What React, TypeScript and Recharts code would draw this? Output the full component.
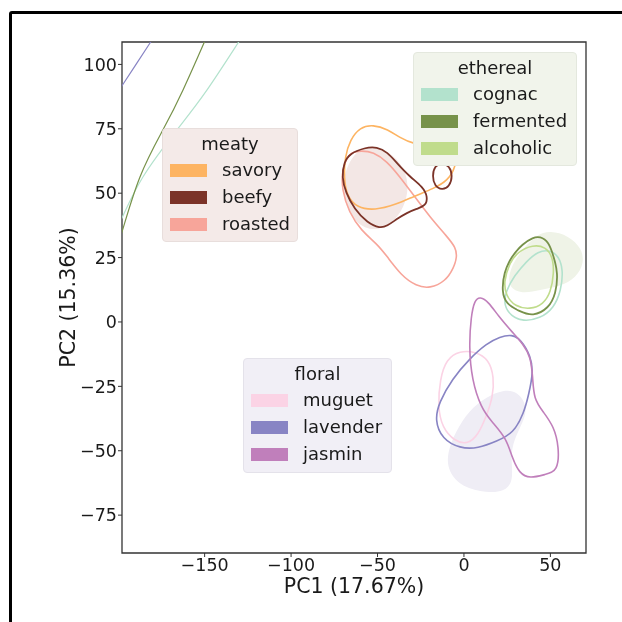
import React from 'react';
import { ComposedChart, Line, Area, XAxis, YAxis, ReferenceArea, Label } from 'recharts';

// ---------- axes ----------
const X_DOMAIN: [number, number] = [-197.8, 70.6];
const Y_DOMAIN: [number, number] = [-89.7, 108.7];
const X_TICKS = [-150, -100, -50, 0, 50];
const Y_TICKS = [-75, -50, -25, 0, 25, 50, 75, 100];
const X_LABEL = 'PC1 (17.67%)';
const Y_LABEL = 'PC2 (15.36%)';

// ---------- group fills (KDE of group) ----------
const meatyFill = [[-60.1, 69.0], [-46.8, 67.5], [-36.0, 62.0], [-31.5, 53.6], [-34.3, 44.5], [-42.3, 37.6], [-53.2, 35.0], [-64.0, 39.0], [-70.0, 47.8], [-69.8, 58.5]];
const etherealFill = [[49.7, 35.5], [60.6, 33.5], [68.2, 28.5], [69.5, 22.9], [65.0, 17.2], [55.5, 13.8], [44.0, 12.4], [33.5, 10.8], [25.0, 13.6], [26.8, 21.5], [34.8, 29.0], [42.2, 33.8]];
const floralFill = [[31.0, -26.8], [37.0, -33.0], [34.0, -39.2], [28.8, -45.8], [27.0, -52.4], [28.8, -62.0], [23.0, -66.0], [13.3, -66.3], [-1.0, -64.3], [-9.3, -58.0], [-9.8, -50.9], [-4.8, -42.5], [3.0, -34.3], [13.3, -29.0], [22.6, -26.4]];

// ---------- descriptor contours ----------
const savory = [[-65.9, 70.7], [-60.1, 75.6], [-52.6, 76.6], [-44.0, 74.8], [-37.0, 71.5], [-29.5, 69.1], [-13.9, 67.6], [-4.7, 65.2], [-4.6, 60.6], [-9.3, 54.8], [-17.9, 51.7], [-28.3, 49.0], [-39.9, 45.4], [-51.5, 43.4], [-61.8, 44.3], [-67.8, 48.9], [-69.5, 56.3], [-68.8, 64.1]];
const beefy = [[-66.3, 65.3], [-57.3, 67.7], [-50.3, 68.0], [-44.2, 65.9], [-38.8, 61.7], [-31.2, 56.3], [-24.0, 52.6], [-20.8, 48.5], [-22.3, 45.0], [-27.2, 44.0], [-33.0, 42.4], [-38.8, 40.0], [-44.5, 37.2], [-48.6, 36.4], [-55.8, 38.4], [-63.5, 44.0], [-68.3, 50.1], [-70.7, 56.3], [-69.3, 62.0]];
const beefySmall = [[-12.7, 61.8], [-8.4, 60.6], [-6.5, 56.7], [-8.4, 52.5], [-12.7, 51.2], [-17.0, 52.8], [-18.3, 56.7], [-17.0, 60.6]];
const roasted = [[-66.3, 66.0], [-59.0, 66.5], [-52.6, 66.0], [-44.5, 62.4], [-37.0, 56.3], [-28.3, 48.5], [-19.7, 40.8], [-9.6, 33.0], [-4.7, 28.9], [-4.0, 25.2], [-5.9, 21.0], [-10.7, 15.8], [-19.7, 13.0], [-27.5, 13.9], [-36.3, 18.0], [-44.8, 25.8], [-50.6, 30.5], [-59.3, 35.4], [-66.5, 42.5], [-70.6, 51.3], [-70.6, 59.3]];
const cognac = [[49.7, 28.0], [54.9, 25.5], [57.4, 20.2], [56.2, 12.2], [52.0, 5.4], [44.0, 1.3], [34.1, 0.2], [27.4, 2.2], [23.0, 6.4], [24.2, 11.9], [29.0, 17.9], [36.2, 23.5], [42.8, 27.4]];
const cognacEdge = [[-205, 31.0], [-197.8, 40.4], [-185.7, 56.3], [-166.0, 74.6], [-148.6, 90.1], [-130.7, 108.3], [-125, 114]];
const fermented = [[44.0, 33.2], [49.0, 31.2], [52.0, 25.2], [54.4, 19.0], [53.2, 11.0], [49.0, 5.3], [39.9, 2.1], [32.0, 4.2], [24.4, 7.0], [21.9, 11.7], [23.1, 19.2], [27.4, 25.4], [34.1, 30.4], [39.9, 32.8]];
const fermentedEdge = [[-205, 20.5], [-197.8, 35.0], [-187.4, 56.3], [-174.1, 74.6], [-162.5, 90.1], [-150.4, 108.3], [-146, 115]];
const alcoholic = [[39.9, 30.0], [47.2, 29.2], [51.4, 25.2], [52.1, 19.0], [50.2, 11.5], [46.0, 6.9], [38.2, 4.8], [29.2, 6.1], [24.3, 10.3], [23.0, 15.5], [26.1, 22.5], [31.0, 27.3]];
const muguet = [[-2.3, -11.2], [6.6, -11.5], [14.4, -14.5], [17.4, -21.4], [16.8, -29.1], [12.6, -37.2], [8.4, -43.6], [2.3, -47.6], [-5.5, -46.3], [-12.6, -41.0], [-15.1, -33.0], [-13.9, -22.3], [-10.2, -14.4]];
const lavender = [[27.8, -4.9], [32.8, -6.6], [38.8, -13.4], [40.0, -19.8], [37.6, -27.8], [34.6, -35.6], [28.6, -43.2], [19.1, -46.3], [8.1, -49.1], [-2.3, -49.1], [-12.6, -45.5], [-16.9, -38.1], [-14.4, -31.2], [-6.8, -22.1], [3.2, -14.3], [13.1, -8.4], [20.8, -5.7]];
const lavenderEdge = [[-205, 84.3], [-197.8, 91.7], [-181.6, 108.3], [-176, 113.8]];
const jasmin = [[9.3, 9.9], [14.2, 7.8], [20.0, 2.2], [28.0, -4.0], [34.4, -8.7], [38.6, -13.6], [39.8, -21.4], [40.4, -30.0], [46.0, -35.0], [52.0, -40.6], [55.0, -48.5], [54.4, -58.0], [46.8, -59.2], [38.2, -60.8], [32.0, -58.8], [27.8, -52.6], [24.5, -45.0], [15.8, -38.5], [9.9, -33.3], [4.6, -22.5], [2.9, -9.7], [4.1, 2.2], [6.1, 8.4]];

// ---------- legends ----------
const meatyNames = ['savory', 'beefy', 'roasted'];
const meatyColors = ['#fdb462', '#7b3328', '#f7a59a'];
const etherealNames = ['cognac', 'fermented', 'alcoholic'];
const etherealColors = ['#b3e2cd', '#77924a', '#c0dc8c'];
const floralNames = ['muguet', 'lavender', 'jasmin'];
const floralColors = ['#fbd3e5', '#8884c4', '#c07fbb'];

const toPts = (arr: number[][]) => arr.map(([x, y]) => ({ x, y }));
const fmt = (v: number) => (v < 0 ? '\u2212' + Math.abs(v) : String(v));
const FONT = '"DejaVu Sans", sans-serif';

const YLab = (props: any) => {
  const vb = props.viewBox || { x: 0, y: 34, width: 114, height: 511 };
  const cx = vb.x + 66.5;
  const cy = vb.y + vb.height / 2;
  return (
    <text x={cx} y={cy} transform={`rotate(-90, ${cx}, ${cy})`} textAnchor="middle" fontSize={20.5} fontFamily={FONT} fill="#1a1a1a">
      {Y_LABEL}
    </text>
  );
};

const XLab = (props: any) => {
  const vb = props.viewBox || { x: 114, y: 545, width: 464, height: 61 };
  const cx = vb.x + vb.width / 2;
  const cy = vb.y + 40;
  return (
    <text x={cx} y={cy} textAnchor="middle" fontSize={20.5} fontFamily={FONT} fill="#1a1a1a">
      {X_LABEL}
    </text>
  );
};

type LegendProps = { title: string; names: string[]; colors: string[]; left: number; top: number; width: number; height: number; bg: string; border: string };
const LegendBox = ({ title, names, colors, left, top, width, height, bg, border }: LegendProps) => (
  <div
    style={{
      position: 'absolute', left, top, width, height, background: bg, border: `1px solid ${border}`,
      borderRadius: 4, boxSizing: 'border-box', fontFamily: FONT, fontSize: 18, color: '#1a1a1a',
    }}
  >
    <div style={{ position: 'absolute', left: 0, right: 0, top: 3, height: 24, lineHeight: '24px', textAlign: 'center' }}>{title}</div>
    {names.map((n, i) => (
      <React.Fragment key={n}>
        <div style={{ position: 'absolute', left: 7, top: 35 + i * 27, width: 37, height: 13, background: colors[i] }} />
        <div style={{ position: 'absolute', left: 59, top: 29 + i * 27, height: 24, lineHeight: '24px', whiteSpace: 'nowrap' }}>{n}</div>
      </React.Fragment>
    ))}
  </div>
);

const edges: { d: number[][]; c: string }[] = [
  { d: lavenderEdge, c: '#8884c4' },
  { d: cognacEdge, c: '#b3e2cd' },
  { d: fermentedEdge, c: '#77924a' },
];

const lines: { d: number[][]; c: string; w?: number }[] = [
  { d: roasted, c: '#f7a59a' },
  { d: savory, c: '#fdb462' },
  { d: beefy, c: '#7b3328', w: 1.8 },
  { d: beefySmall, c: '#7b3328', w: 1.8 },
  { d: cognac, c: '#b3e2cd' },
  { d: alcoholic, c: '#c0dc8c' },
  { d: fermented, c: '#77924a', w: 1.8 },
  { d: muguet, c: '#fbd3e5' },
  { d: lavender, c: '#8884c4' },
  { d: jasmin, c: '#c07fbb' },
];

const fills: { d: number[][]; c: string }[] = [
  { d: meatyFill, c: '#f3e7e5' },
  { d: etherealFill, c: '#eff3e7' },
  { d: floralFill, c: '#efedf5' },
];

export default function App() {
  return (
    <div style={{ position: 'relative', width: 606, height: 606 }}>
      <div style={{ position: 'fixed', left: 0, top: 0, width: 622, height: 622, overflow: 'hidden', pointerEvents: 'none' }}>
        <div style={{ position: 'absolute', left: 9, top: 11, width: 800, height: 800, border: '3px solid #000', borderRadius: 3 }} />
      </div>
      <ComposedChart width={606} height={606} margin={{ top: 34, right: 28, bottom: 0, left: 0 }}>
        <XAxis
          type="number" dataKey="x" domain={X_DOMAIN} ticks={X_TICKS} interval={0} allowDataOverflow
          height={61} tickFormatter={fmt} tickSize={4} tickMargin={2} axisLine={false}
          tickLine={{ stroke: '#333', strokeWidth: 1 }}
          tick={{ fontSize: 17.5, fontFamily: FONT, fill: '#1a1a1a' }}
        >
          <Label content={<XLab />} />
        </XAxis>
        <YAxis
          type="number" domain={Y_DOMAIN} ticks={Y_TICKS} interval={0} allowDataOverflow
          width={114} tickFormatter={fmt} tickSize={4} tickMargin={1} axisLine={false}
          tickLine={{ stroke: '#333', strokeWidth: 1 }}
          tick={{ fontSize: 17.5, fontFamily: FONT, fill: '#1a1a1a' }}
        >
          <Label content={<YLab />} />
        </YAxis>
        {fills.map((f, i) => (
          <Area key={'f' + i} data={toPts(f.d)} dataKey="y" type="basisClosed" fill={f.c} fillOpacity={1} stroke="none" isAnimationActive={false} dot={false} activeDot={false} />
        ))}
        {edges.map((l, i) => (
          <Line key={'e' + i} data={toPts(l.d)} dataKey="y" type="natural" stroke={l.c} strokeWidth={1.2} dot={false} activeDot={false} isAnimationActive={false} />
        ))}
        {lines.map((l, i) => (
          <Line key={'l' + i} data={toPts(l.d)} dataKey="y" type="basisClosed" stroke={l.c} strokeWidth={l.w ?? 1.6} dot={false} activeDot={false} isAnimationActive={false} />
        ))}
        <ReferenceArea x1={X_DOMAIN[0]} x2={X_DOMAIN[1]} y1={Y_DOMAIN[0]} y2={Y_DOMAIN[1]} fill="none" stroke="#333" strokeWidth={1.3} ifOverflow="visible" />
      </ComposedChart>
      <LegendBox title="meaty" names={meatyNames} colors={meatyColors} left={154} top={120} width={136} height={114} bg="#f4eae8" border="#e8dedc" />
      <LegendBox title="ethereal" names={etherealNames} colors={etherealColors} left={405} top={44} width={164} height={114} bg="#f1f4eb" border="#e4e8de" />
      <LegendBox title="floral" names={floralNames} colors={floralColors} left={235} top={350} width={149} height={115} bg="#f1eff6" border="#e4e2ea" />
    </div>
  );
}
